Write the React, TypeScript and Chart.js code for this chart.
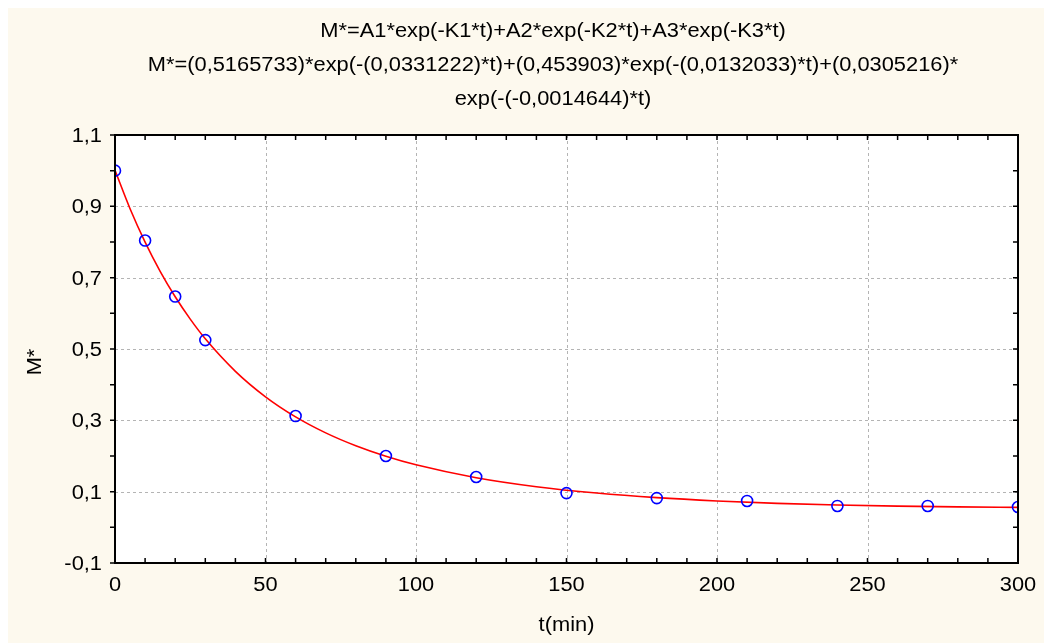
import { useEffect, useRef } from "react";
import { Chart, registerables } from "chart.js";

Chart.register(...registerables);

// Title lines: model and fitted parameters
const titleLines = [
  "M*=A1*exp(-K1*t)+A2*exp(-K2*t)+A3*exp(-K3*t)",
  "M*=(0,5165733)*exp(-(0,0331222)*t)+(0,453903)*exp(-(0,0132033)*t)+(0,0305216)*",
  "exp(-(-0,0014644)*t)",
];
const xAxisTitle = "t(min)";
const yAxisTitle = "M*";

// Measured moisture ratio
const measuredT = [0, 10, 20, 30, 60, 90, 120, 150, 180, 210, 240, 270, 300];
const measuredM = [1.0, 0.804, 0.647, 0.525, 0.312, 0.2, 0.141, 0.096, 0.082, 0.074, 0.06, 0.06, 0.057];

// Fitted curve
const fitT = [0, 5, 10, 15, 20, 25, 30, 40, 50, 60, 70, 80, 90, 100, 120, 140, 160, 180, 200, 220, 240, 260, 280, 300];
const fitM = [
  1.001, 0.8934, 0.7997, 0.7178, 0.6464, 0.5837, 0.5285, 0.4374, 0.366, 0.3097, 0.2648, 0.2287, 0.1993, 0.1753,
  0.1392, 0.114, 0.0961, 0.0832, 0.074, 0.0673, 0.0626, 0.0594, 0.0573, 0.056,
];

// Axis tick labels
const xTicks = [0, 50, 100, 150, 200, 250, 300];
const yTicks = [-0.1, 0.1, 0.3, 0.5, 0.7, 0.9, 1.1];
const xMinorStep = 10;
const yMinorStep = 0.1;

const CREAM = "#fdf9ee";
const FONT = "19.5px 'Liberation Sans', Arial, sans-serif";
const STRETCH = 1.12;

const fmt = (v: number) => v.toFixed(1).replace(".", ",").replace("-0,0", "0,0");

function drawText(
  ctx: CanvasRenderingContext2D,
  text: string,
  x: number,
  y: number,
  align: CanvasTextAlign,
  rotate = 0
) {
  ctx.save();
  ctx.translate(x, y);
  if (rotate) ctx.rotate(rotate);
  ctx.scale(STRETCH, 1);
  ctx.textAlign = align;
  ctx.textBaseline = "alphabetic";
  ctx.fillText(text, 0, 0);
  ctx.restore();
}

const framePlugin = {
  id: "framePlugin",
  beforeDraw(chart: any) {
    const { ctx, width, height, chartArea: a, scales } = chart;
    ctx.save();
    ctx.fillStyle = CREAM;
    ctx.fillRect(0, 0, width, height);
    ctx.fillStyle = "#ffffff";
    ctx.fillRect(a.left, a.top, a.right - a.left, a.bottom - a.top);

    // dotted grid at labelled values
    ctx.strokeStyle = "#b4b4b4";
    ctx.lineWidth = 1;
    ctx.setLineDash([3, 3]);
    for (const v of xTicks) {
      const px = Math.round(scales.x.getPixelForValue(v)) + 0.5;
      if (px <= a.left + 1 || px >= a.right - 1) continue;
      ctx.beginPath();
      ctx.moveTo(px, a.top);
      ctx.lineTo(px, a.bottom);
      ctx.stroke();
    }
    for (const v of yTicks) {
      const py = Math.round(scales.y.getPixelForValue(v)) + 0.5;
      if (py <= a.top + 1 || py >= a.bottom - 1) continue;
      ctx.beginPath();
      ctx.moveTo(a.left, py);
      ctx.lineTo(a.right, py);
      ctx.stroke();
    }
    ctx.restore();
  },
  afterDraw(chart: any) {
    const { ctx, chartArea: a, scales } = chart;
    const xs = scales.x;
    const ys = scales.y;
    ctx.save();
    ctx.strokeStyle = "#000000";
    ctx.lineWidth = 2;
    ctx.strokeRect(a.left, a.top, a.right - a.left, a.bottom - a.top);

    // tick marks
    ctx.lineWidth = 1.5;
    const tl = 5;
    ctx.beginPath();
    for (let v = xs.min; v <= xs.max + 1e-9; v += xMinorStep) {
      const px = xs.getPixelForValue(v);
      ctx.moveTo(px, a.bottom);
      ctx.lineTo(px, a.bottom - tl);
      ctx.moveTo(px, a.top);
      ctx.lineTo(px, a.top + tl);
    }
    const nY = Math.round((ys.max - ys.min) / yMinorStep);
    for (let i = 0; i <= nY; i++) {
      const py = ys.getPixelForValue(ys.min + i * yMinorStep);
      ctx.moveTo(a.left, py);
      ctx.lineTo(a.left - tl, py);
      ctx.moveTo(a.right, py);
      ctx.lineTo(a.right - tl, py);
    }
    ctx.stroke();

    // labels
    ctx.fillStyle = "#000000";
    ctx.font = FONT;
    for (const v of xTicks) {
      drawText(ctx, String(v), xs.getPixelForValue(v), a.bottom + 28, "center");
    }
    for (const v of yTicks) {
      drawText(ctx, fmt(v), a.left - 13, ys.getPixelForValue(v) + 7, "right");
    }
    drawText(ctx, xAxisTitle, (a.left + a.right) / 2, a.bottom + 68, "center");
    drawText(ctx, yAxisTitle, 32.5, 354, "center", -Math.PI / 2);

    // title
    const cx = 545;
    titleLines.forEach((line, i) => {
      drawText(ctx, line, cx, 29 + i * 33.8, "center");
    });
    ctx.restore();
  },
};

export default function App() {
  const canvasRef = useRef<HTMLCanvasElement | null>(null);

  useEffect(() => {
    if (!canvasRef.current) return;
    const chart = new Chart(canvasRef.current, {
      type: "scatter",
      data: {
        datasets: [
          {
            label: "measured",
            data: measuredT.map((t, i) => ({ x: t, y: measuredM[i] })),
            showLine: false,
            pointStyle: "circle",
            pointRadius: 5.5,
            pointHoverRadius: 5.5,
            borderWidth: 1.6,
            borderColor: "#0000ff",
            backgroundColor: "rgba(0,0,0,0)",
            clip: 0,
          },
          {
            label: "fit",
            data: fitT.map((t, i) => ({ x: t, y: fitM[i] })),
            showLine: true,
            pointRadius: 0,
            borderWidth: 1.6,
            borderColor: "#ff0000",
            backgroundColor: "#ff0000",
            cubicInterpolationMode: "monotone",
            clip: 0,
          },
        ],
      },
      options: {
        animation: false,
        responsive: false,
        maintainAspectRatio: false,
        devicePixelRatio: 1,
        events: [],
        layout: { padding: { left: 107, top: 127, right: 34, bottom: 80 } },
        plugins: {
          legend: { display: false },
          title: { display: false },
          tooltip: { enabled: false },
        },
        scales: {
          x: { type: "linear", min: 0, max: 300, display: false },
          y: { type: "linear", min: -0.1, max: 1.1, display: false },
        },
      },
      plugins: [framePlugin],
    });
    return () => chart.destroy();
  }, []);

  return (
    <div style={{ width: 1044, height: 635 }}>
      <canvas ref={canvasRef} width={1044} height={635} style={{ display: "block" }} />
    </div>
  );
}
